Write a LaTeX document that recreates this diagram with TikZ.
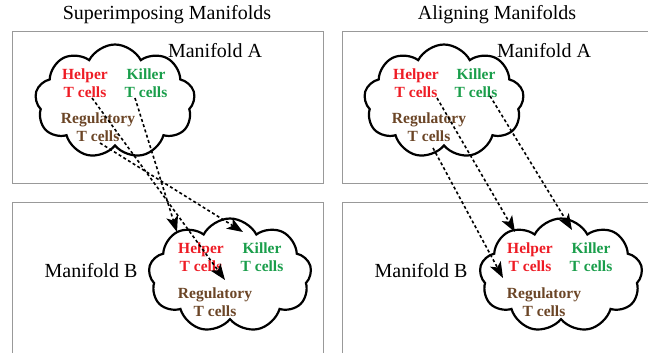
\documentclass[tikz,border=0pt]{standalone}
\usepackage{fontspec}
\setmainfont{Liberation Serif}
\usetikzlibrary{shapes.symbols,arrows.meta,calc}
\definecolor{helperred}{HTML}{EE1C25}
\definecolor{killergreen}{HTML}{1A9E4B}
\definecolor{regbrown}{HTML}{6B4526}
\definecolor{boxgray}{HTML}{999999}
\begin{document}
\begin{tikzpicture}[x=1pt,y=-1pt,
  title/.style={font=\fontsize{20}{24}\selectfont, anchor=base, inner sep=0pt},
  panelbox/.style={draw=boxgray, line width=0.8pt},
  cloudshape/.style={cloud, cloud puffs=9, cloud puff arc=125, aspect=1.4, draw=black, line width=2.2pt, inner sep=0pt, minimum width=160pt, minimum height=114pt},
  cell/.style={font=\fontsize{15.5}{18.3}\selectfont\bfseries, align=center, inner sep=0pt},
  link/.style={line width=1.6pt, dash pattern=on 3pt off 2.5pt, -{Stealth[length=16pt,width=12pt,inset=4pt]}}]
\useasboundingbox (0,0) rectangle (648,353);
% panels
\draw[panelbox] (12,31) rectangle (323,183);
\draw[panelbox] (12,353) -- (12,202) -- (323,202) -- (323,353);
\draw[panelbox] (648,31) -- (342,31) -- (342,183) -- (648,183);
\draw[panelbox] (648,202) -- (342,202) -- (342,353);
% titles
\node[title] (t1) at (167,20) {Superimposing Manifolds};
\node[title] (t2) at (497,20) {Aligning Manifolds};
\node[title] (mA1) at (215,58) {Manifold A};
\node[title] (mA2) at (544,58) {Manifold A};
\node[title] (mB1) at (91,277) {Manifold B};
\node[title] (mB2) at (421,277) {Manifold B};
% clouds
\node[cloudshape] (cA1) at (115,101.5) {};
\node[cloudshape] (cA2) at (444,101.5) {};
\node[cloudshape, minimum width=163pt] (cB1) at (230,275.5) {};
\node[cloudshape, minimum width=163pt] (cB2) at (561,275.5) {};
% labels left
\node[cell, text=helperred] (hA1) at (85,83) {Helper\\T cells};
\node[cell, text=killergreen] (kA1) at (146,83) {Killer\\T cells};
\node[cell, text=regbrown] (rA1) at (98,127) {Regulatory\\T cells};
\node[cell, text=helperred] (hB1) at (201,257) {Helper\\T cells};
\node[cell, text=killergreen] (kB1) at (262,257) {Killer\\T cells};
\node[cell, text=regbrown] (rB1) at (215,302) {Regulatory\\T cells};
% labels right
\node[cell, text=helperred] (hA2) at (416,83) {Helper\\T cells};
\node[cell, text=killergreen] (kA2) at (476,83) {Killer\\T cells};
\node[cell, text=regbrown] (rA2) at (429,127) {Regulatory\\T cells};
\node[cell, text=helperred] (hB2) at (530,257) {Helper\\T cells};
\node[cell, text=killergreen] (kB2) at (591,257) {Killer\\T cells};
\node[cell, text=regbrown] (rB2) at (544,302) {Regulatory\\T cells};
% connectors left (superimposing)
\draw[link] ($(hA1)+(7,15)$) -- ($(rB1)+(10,-22)$);
\draw[link] ($(kA1)+(-11,15)$) -- ($(hB1)+(-24,-25)$);
\draw[link] ($(rA1)+(2,16)$) -- ($(kB1)+(-19,-25)$);
% connectors right (aligning)
\draw[link] ($(hA2)+(21,15)$) -- ($(hB2)+(-15,-25)$);
\draw[link] ($(kA2)+(14,13)$) -- ($(kB2)+(-19,-27)$);
\draw[link] ($(rA2)+(4,21)$) -- ($(rB2)+(-41,-24)$);
\end{tikzpicture}
\end{document}
